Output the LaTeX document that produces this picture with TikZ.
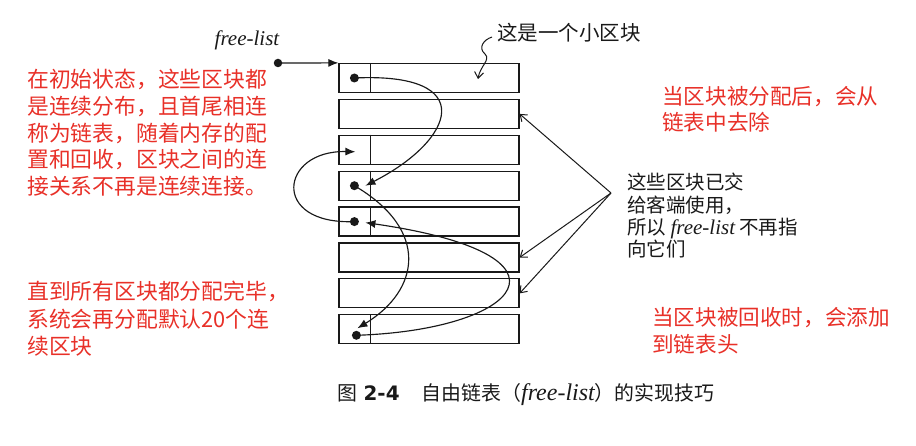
\documentclass[tikz,border=0pt]{standalone}
\usepackage{fontspec}
\newfontfamily\cjk{Noto Sans CJK SC}
\newfontfamily\numfont{DejaVu Sans}
\newfontfamily\flfont{Liberation Serif}
\usetikzlibrary{arrows.meta}
\definecolor{notered}{RGB}{232,48,40}
\definecolor{ink}{RGB}{25,25,25}
\newcommand{\flname}{{\flfont\itshape\fontsize{21}{22}\selectfont free-list}}
\begin{document}
\begin{tikzpicture}[x=1pt, y=-1pt,
  blk/.style={draw=ink, line width=1.2pt, minimum width=180pt, minimum height=29pt, inner sep=0},
  dot/.style={circle, fill=ink, minimum size=9pt, inner sep=0},
  lnk/.style={draw=ink, line width=1.15pt, -{Latex[length=10pt,width=8pt]}},
  barb/.style={draw=ink, line width=1pt, -{Straight Barb[length=6pt,width=9pt]}},
  note/.style={text=notered, font=\cjk\fontsize{21.8}{26.7}\selectfont, align=left, inner sep=0, anchor=north west}]
\useasboundingbox (0,0) rectangle (916,446);
% blocks of the free list
\foreach \i in {1,...,8}
  \node[blk] (blk\i) at (429, {78+35.9*(\i-1)}) {};
\foreach \i in {1,3,4,5,8}
  \draw[ink, line width=1.2pt] ([xshift=32pt]blk\i.north west) -- ([xshift=32pt]blk\i.south west);
\node[dot] (dot1) at ([xshift=16pt]blk1.west) {};
\node[dot] (dot4) at ([xshift=16pt]blk4.west) {};
\node[dot] (dot5) at ([xshift=16pt]blk5.west) {};
\node[dot] (dot8) at ([shift={(18pt,-6pt)}]blk8.west) {};
\coordinate (tip3) at ([shift={(17pt,-2pt)}]blk3.west);
\coordinate (tip4) at ([shift={(27pt,0pt)}]blk4.west);
\coordinate (tip5) at ([shift={(27pt,-1pt)}]blk5.west);
\coordinate (tip8) at ([shift={(19pt,1pt)}]blk8.west);
% head of the list
\node[dot, minimum size=8.5pt] (head) at (278,63) {};
\node[text=ink, font=\flfont\itshape\fontsize{21}{22}\selectfont] (headlbl) at (247,40) {free-list};
\draw[lnk] (head.center) -- (blk1.north west);
\draw[lnk] (dot1.center) .. controls (480,72) and (455,140) .. (tip4);
\draw[lnk] (dot4.center) .. controls (430,230) and (420,290) .. (tip8);
\draw[lnk] (dot8.center) .. controls (520,330) and (590,255) .. (tip5);
\draw[lnk] (dot5.center) .. controls (270,225) and (280,150) .. (tip3);
% one block
\node[text=ink, font=\cjk\fontsize{20.5}{22}\selectfont, anchor=west, inner sep=0] (smalllbl) at (497,33) {这是一个小区块};
\coordinate (smalltip) at (478,79);
\draw[barb] ([shift={(-5pt,-4pt)}]smalllbl.west) .. controls (483,40) and (478,48) .. (485,54) .. controls (491,60) and (480,66) .. (smalltip);
% blocks in use
\node[note, text=ink, font=\cjk\fontsize{19.5}{22.3}\selectfont] (usedlbl) at (627,173) {这些区块已交\\给客端使用，\\所以 \flname{} 不再指\\向它们};
\coordinate (hub) at (611,193);
\foreach \b in {2,6,7}
  \draw[barb] (hub) -- (blk\b.east);
% notes
\node[note] (note1) at (27,69) {在初始状态，这些区块都\\是连续分布，且首尾相连\\称为链表，随着内存的配\\置和回收，区块之间的连\\接关系不再是连续连接。};
\node[note, font=\cjk\fontsize{21.8}{27.5}\selectfont] (note2) at (27,281) {直到所有区块都分配完毕，\\系统会再分配默认20个连\\续区块};
\node[note, font=\cjk\fontsize{21.6}{26}\selectfont] (note3) at (662,86) {当区块被分配后，会从\\链表中去除};
\node[note, font=\cjk\fontsize{21.6}{27}\selectfont] (note4) at (652,307) {当区块被回收时，会添加\\到链表头};
% caption
\node[text=ink, font=\cjk\fontsize{19.9}{22}\selectfont, inner sep=0] (caption) at (526,395)
  {图\hspace{6pt}{\numfont\bfseries 2-4}\hspace{22pt}自由链表（{\flfont\itshape\fontsize{24}{24}\selectfont free-list}）的实现技巧};
\end{tikzpicture}
\end{document}
